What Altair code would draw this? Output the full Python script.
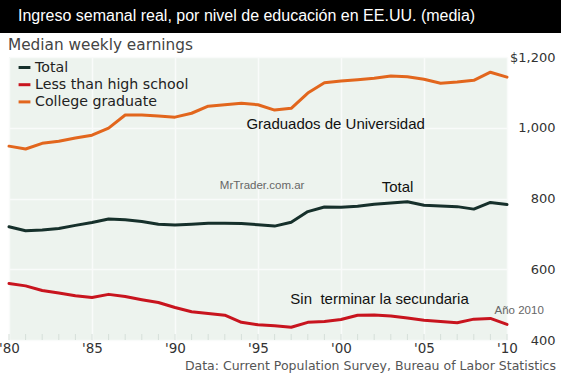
import altair as alt
import pandas as pd

# ---------------- data ----------------
years = list(range(1980, 2011))
total = [720, 709, 711, 715, 724, 732, 742, 740, 735, 727, 725, 727, 730, 730, 729, 726,
         722, 733, 763, 776, 775, 778, 784, 787, 791, 781, 779, 777, 770, 789, 783]
less_hs = [560, 553, 540, 533, 525, 520, 529, 523, 514, 506, 492, 480, 475, 470, 450, 443,
           440, 436, 450, 452, 458, 470, 471, 468, 462, 456, 452, 449, 459, 461, 444]
college = [948, 940, 956, 962, 971, 979, 999, 1036, 1036, 1033, 1030, 1041, 1061, 1065, 1069, 1065,
           1050, 1055, 1098, 1127, 1132, 1136, 1140, 1146, 1144, 1137, 1126, 1129, 1134, 1157, 1143]

series_names = ["Total", "Less than high school", "College graduate"]
series_colors = ["#16302b", "#c8141e", "#e2661d"]

x_ticks = [1980, 1985, 1990, 1995, 2000, 2005, 2010]
y_ticks = [400, 600, 800, 1000, 1200]

title_text = "Ingreso semanal real, por nivel de educación en EE.UU. (media)"
subtitle_text = "Median weekly earnings"
source_text = "Data: Current Population Survey, Bureau of Labor Statistics"

big_labels = ["Graduados de Universidad", "Total", "Sin\u00a0 terminar la secundaria"]
big_years = [1994.3, 2002.45, 1996.95]
big_values = [1010, 832, 516]

small_labels = ["MrTrader.com.ar", "Año 2010"]
small_years = [1992.7, 2009.25]
small_values = [835, 482]

# ---------------- tables ----------------
rows = []
for name, vals in zip(series_names, [total, less_hs, college]):
    for yr, v in zip(years, vals):
        rows.append({"year": yr, "value": v, "series": name})
df = pd.DataFrame(rows)

big_df = pd.DataFrame({"year": big_years, "value": big_values, "label": big_labels})
small_df = pd.DataFrame({"year": small_years, "value": small_values, "label": small_labels})
year_df = pd.DataFrame({"year": years})

W, H = 498, 283
x_scale = alt.Scale(domain=[1980, 2010], nice=False, zero=False)
y_scale = alt.Scale(domain=[400, 1200], nice=False, zero=False)

lines = alt.Chart(df).mark_line(strokeWidth=3, strokeJoin="round", strokeCap="round").encode(
    x=alt.X("year:Q", scale=x_scale, title=None,
            axis=alt.Axis(values=x_ticks, labelExpr='"\'" + substring(toString(datum.value), 2)',
                          labelFont="DejaVu Sans", labelFontSize=13.5, labelColor="#333",
                          labelPadding=1, labelFlush=False, ticks=False, domain=False,
                          grid=True, gridColor="#f9fbfa", gridWidth=1.5)),
    y=alt.Y("value:Q", scale=y_scale, title=None,
            axis=alt.Axis(orient="right", values=y_ticks,
                          labelExpr="datum.value == 1200 ? '$1,200' : format(datum.value, ',')",
                          labelFont="DejaVu Sans", labelFontSize=13, labelColor="#333",
                          labelAlign="right", labelBaseline="middle", labelPadding=48,
                          labelFlush=False, ticks=False, domain=False,
                          grid=True, gridColor="#f9fbfa", gridWidth=1.5)),
    color=alt.Color("series:N", scale=alt.Scale(domain=series_names, range=series_colors),
                    legend=alt.Legend(title=None, orient="none", legendX=8, legendY=3,
                                      symbolType="stroke", symbolStrokeWidth=3, symbolSize=140,
                                      labelFont="DejaVu Sans", labelFontSize=14.2,
                                      labelColor="#222", labelOffset=3, rowPadding=2.2,
                                      symbolOffset=0)),
)

year_ticks = alt.Chart(year_df).mark_rule(color="#d6dfd9", strokeWidth=1).encode(
    x=alt.X("year:Q", scale=x_scale),
    y=alt.value(H - 6), y2=alt.value(H),
)

big_text = alt.Chart(big_df).mark_text(align="left", baseline="middle", font="Liberation Sans",
                                       fontSize=15, color="#111").encode(
    x=alt.X("year:Q", scale=x_scale), y=alt.Y("value:Q", scale=y_scale), text="label:N")

small_text = alt.Chart(small_df).mark_text(align="left", baseline="middle", font="Liberation Sans",
                                           fontSize=11.5, color="#666").encode(
    x=alt.X("year:Q", scale=x_scale), y=alt.Y("value:Q", scale=y_scale), text="label:N")

title_df = pd.DataFrame({"t": [title_text]})
title_bar = alt.Chart(title_df).mark_rect(color="#000000").encode(
    x=alt.value(-9), x2=alt.value(552), y=alt.value(-57), y2=alt.value(-24))
title_txt = alt.Chart(title_df).mark_text(align="left", baseline="middle", font="Liberation Sans",
                                          fontSize=16, color="#ffffff").encode(
    x=alt.value(9), y=alt.value(-41), text="t:N")

sub_txt = alt.Chart(pd.DataFrame({"t": [subtitle_text]})).mark_text(
    align="left", baseline="middle", font="DejaVu Sans", fontSize=15.3, color="#444").encode(
    x=alt.value(-1), y=alt.value(-12), text="t:N")

src_txt = alt.Chart(pd.DataFrame({"t": [source_text]})).mark_text(
    align="right", baseline="middle", font="DejaVu Sans", fontSize=12.5, color="#555").encode(
    x=alt.value(547), y=alt.value(309), text="t:N")

chart = alt.layer(year_ticks, lines, big_text, small_text, title_bar, title_txt, sub_txt, src_txt).properties(
    width=W, height=H,
    autosize=alt.AutoSizeParams(type="none"),
    padding={"left": 9, "top": 57, "right": 54, "bottom": 35},
    background="#ffffff",
).configure_view(fill="#edf3ee", strokeWidth=0)

chart.save("out.html", embed_options={"renderer": "svg", "actions": False})
